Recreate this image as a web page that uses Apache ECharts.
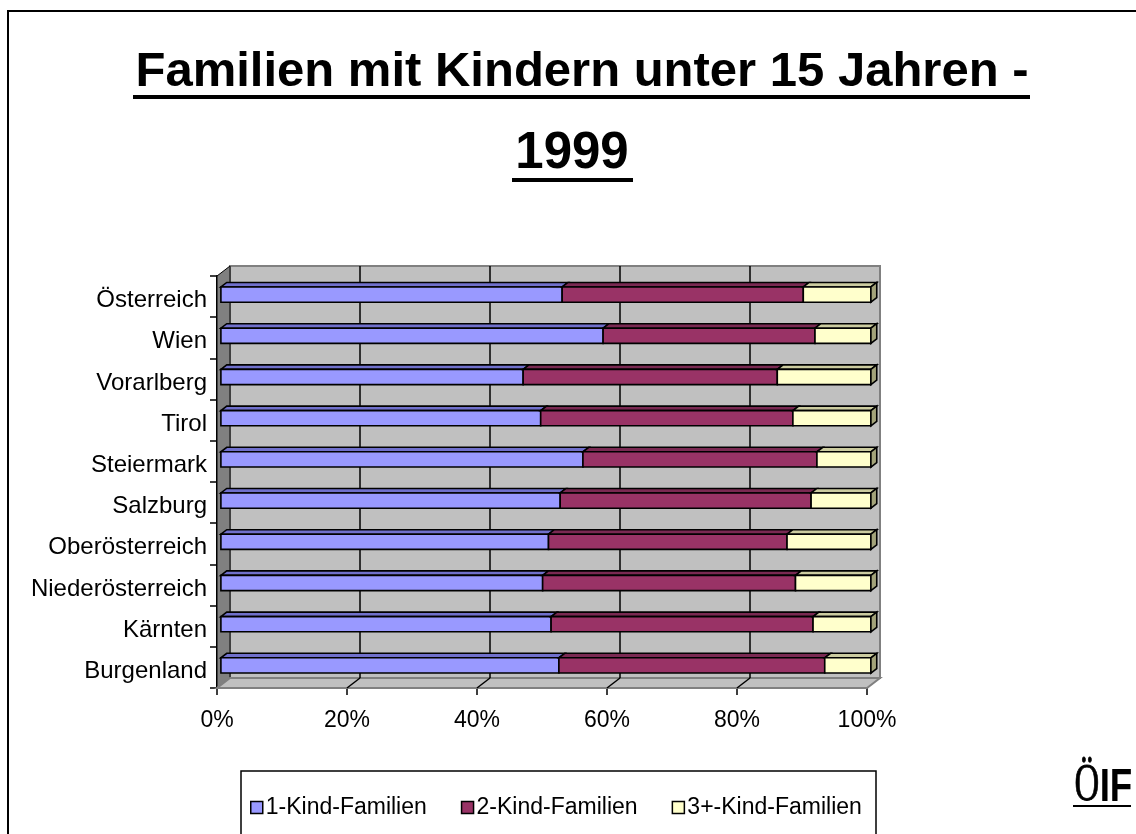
<!DOCTYPE html>
<html>
<head>
<meta charset="utf-8">
<title>Familien mit Kindern unter 15 Jahren - 1999</title>
<script src="https://cdn.jsdelivr.net/npm/echarts@6/dist/echarts.min.js"></script>
<style>
  html, body { margin: 0; padding: 0; background: #fff; }
  #chart { width: 1136px; height: 834px; }
</style>
</head>
<body>
<div id="chart"></div>
<script>
// data (shares in %)
const categories = ['Österreich', 'Wien', 'Vorarlberg', 'Tirol', 'Steiermark', 'Salzburg', 'Oberösterreich', 'Niederösterreich', 'Kärnten', 'Burgenland']
const oneChild = [52.5, 58.8, 46.5, 49.2, 55.7, 52.2, 50.4, 49.5, 50.8, 52.0]
const twoChildren = [37.1, 32.6, 39.1, 38.8, 36.0, 38.6, 36.7, 38.9, 40.3, 40.9]
const threePlus = [10.4, 8.6, 14.4, 12.0, 8.3, 9.2, 12.9, 11.6, 8.9, 7.1]
const seriesNames = ['1-Kind-Familien', '2-Kind-Familien', '3+-Kind-Familien']
const xTicks = [0, 20, 40, 60, 80, 100]

const FONT = 'Liberation Sans, Arial, sans-serif'
// depth of the fake 3d box, in pixels
const DX = 13
const DY = -10

const colors = [
  { front: '#9999FF', top: '#7070CC', side: '#5C5CA8' },
  { front: '#993366', top: '#7A2952', side: '#5C1F3D' },
  { front: '#FFFFCC', top: '#CCCCA0', side: '#A3A37A' }
]

// stacked [category, start, end]
function stackData (lists) {
  let out = lists.map(() => [])
  categories.forEach((c, i) => {
    let acc = 0
    lists.forEach((list, s) => {
      out[s].push([i, acc, acc + list[i]])
      acc += list[i]
    })
  })
  return out
}
const stacked = stackData([oneChild, twoChildren, threePlus])

function barRender (col, withSide) {
  return function (params, api) {
    let cat = api.value(0)
    let p0 = api.coord([api.value(1), cat])
    let p1 = api.coord([api.value(2), cat])
    let band = api.size([0, 1])[1]
    let h = band * 0.37
    let ox = DX * 0.3
    let oy = DY * 0.2
    let bx = DX * 0.45
    let by = DY * 0.45
    let x0 = p0[0] + ox
    let x1 = p1[0] + ox
    let yt = p0[1] + oy - h / 2
    let line = { stroke: '#000', lineWidth: 1.6 }
    let children = [
      {
        type: 'polygon',
        shape: { points: [[x0, yt], [x1, yt], [x1 + bx, yt + by], [x0 + bx, yt + by]] },
        style: Object.assign({ fill: col.top }, line)
      },
      {
        type: 'rect',
        shape: { x: x0, y: yt, width: x1 - x0, height: h },
        style: Object.assign({ fill: col.front }, line)
      }
    ]
    if (withSide) {
      children.push({
        type: 'polygon',
        shape: { points: [[x1, yt], [x1 + bx, yt + by], [x1 + bx, yt + by + h], [x1, yt + h]] },
        style: Object.assign({ fill: col.side }, line)
      })
    }
    return { type: 'group', children: children }
  }
}

function wallRender (params, api) {
  let cs = params.coordSys
  let x = cs.x
  let y = cs.y
  let w = cs.width
  let h = cs.height
  let v = api.value(0)
  let cx = api.coord([v, 0])[0]
  let children = []
  if (params.dataIndex === 0) {
    children.push({
      type: 'rect',
      shape: { x: x + DX, y: y + DY, width: w, height: h },
      style: { fill: '#C0C0C0', stroke: '#808080', lineWidth: 2 }
    })
    children.push({
      type: 'polygon',
      shape: { points: [[x, y], [x + DX, y + DY], [x + DX, y + h + DY], [x, y + h]] },
      style: { fill: '#808080', stroke: '#000', lineWidth: 1 }
    })
    children.push({
      type: 'polygon',
      shape: { points: [[x, y + h], [x + DX, y + h + DY], [x + w + DX, y + h + DY], [x + w, y + h]] },
      style: { fill: '#C0C0C0', stroke: '#808080', lineWidth: 2 }
    })
  }
  if (v > xTicks[0] && v < xTicks[xTicks.length - 1]) {
    children.push({
      type: 'line',
      shape: { x1: cx + DX, y1: y + DY, x2: cx + DX, y2: y + h + DY },
      style: { stroke: '#000', lineWidth: 1.5 }
    })
    children.push({
      type: 'line',
      shape: { x1: cx, y1: y + h, x2: cx + DX, y2: y + h + DY },
      style: { stroke: '#000', lineWidth: 1.5 }
    })
  }
  return { type: 'group', children: children }
}

let chart = echarts.init(document.getElementById('chart'), null, { renderer: 'canvas' })

let series = [
  {
    name: 'walls',
    type: 'custom',
    renderItem: wallRender,
    data: xTicks.map(v => [v, 0]),
    encode: { x: 0, y: 1 },
    clip: false,
    silent: true,
    z: 1
  }
]
seriesNames.forEach((name, s) => {
  series.push({
    name: name,
    type: 'custom',
    renderItem: barRender(colors[s], s === seriesNames.length - 1),
    data: stacked[s],
    encode: { x: [1, 2], y: 0 },
    itemStyle: { color: colors[s].front },
    clip: false,
    z: 3
  })
})

let option = {
  backgroundColor: '#fff',
  animation: false,
  textStyle: { fontFamily: FONT },
  grid: { left: 217, top: 276, width: 650, height: 412, show: false },
  xAxis: {
    type: 'value',
    min: 0,
    max: 100,
    interval: 20,
    axisLine: { show: true, lineStyle: { color: '#000', width: 2 } },
    axisTick: { show: true, length: 7, lineStyle: { color: '#000', width: 1.5 } },
    splitLine: { show: false },
    axisLabel: { formatter: '{value}%', color: '#000', fontSize: 23, fontFamily: FONT, margin: 21 }
  },
  yAxis: {
    type: 'category',
    data: categories,
    inverse: true,
    axisLine: { show: true, lineStyle: { color: '#000', width: 2 } },
    axisTick: { show: true, length: 7, lineStyle: { color: '#000', width: 1.5 } },
    splitLine: { show: false },
    axisLabel: {
      margin: 10,
      formatter: v => '{c|' + v + '}',
      rich: { c: { color: '#000', fontSize: 24, fontFamily: FONT, padding: [8, 0, 0, 0] } }
    }
  },
  legend: {
    data: seriesNames,
    left: 241,
    top: 771,
    padding: [25, 10, 40, 9],
    itemGap: 34,
    itemWidth: 12,
    itemHeight: 12,
    icon: 'rect',
    itemStyle: { borderColor: '#000', borderWidth: 1.5 },
    textStyle: { color: '#000', fontSize: 23, fontFamily: FONT, padding: [0, 0, 0, -2] }
  },
  graphic: [
    {
      type: 'rect',
      shape: { x: 8, y: 11, width: 1300, height: 1000 },
      style: { fill: 'none', stroke: '#000', lineWidth: 2 },
      silent: true
    },
    {
      type: 'rect',
      shape: { x: 241, y: 771, width: 635, height: 200 },
      style: { fill: 'none', stroke: '#000', lineWidth: 1.5 },
      silent: true
    },
    {
      type: 'text',
      x: 582,
      y: 72,
      style: { text: 'Familien mit Kindern unter 15 Jahren -', fill: '#000', font: 'bold 49px ' + FONT, align: 'center', verticalAlign: 'middle' }
    },
    { type: 'rect', shape: { x: 133, y: 95, width: 897, height: 4 }, style: { fill: '#000' } },
    {
      type: 'text',
      x: 572,
      y: 154,
      style: { text: '1999', fill: '#000', font: 'bold 51px ' + FONT, align: 'center', verticalAlign: 'middle' }
    },
    { type: 'rect', shape: { x: 512, y: 178, width: 121, height: 4 }, style: { fill: '#000' } },
    // logo bottom right
    {
      type: 'text',
      x: 1087,
      y: 786,
      scaleX: 0.66,
      style: { text: 'Ö', fill: '#000', font: '52px Liberation Serif, DejaVu Serif, serif', align: 'center', verticalAlign: 'middle', stroke: '#000', lineWidth: 0.8 }
    },
    {
      type: 'text',
      x: 1116,
      y: 788,
      scaleX: 0.8,
      style: { text: 'IF', fill: '#000', font: 'bold 46px ' + FONT, align: 'center', verticalAlign: 'middle' }
    },
    { type: 'rect', shape: { x: 1073, y: 805, width: 58, height: 2 }, style: { fill: '#000' } }
  ],
  series: series
}

chart.setOption(option)
</script>
</body>
</html>
